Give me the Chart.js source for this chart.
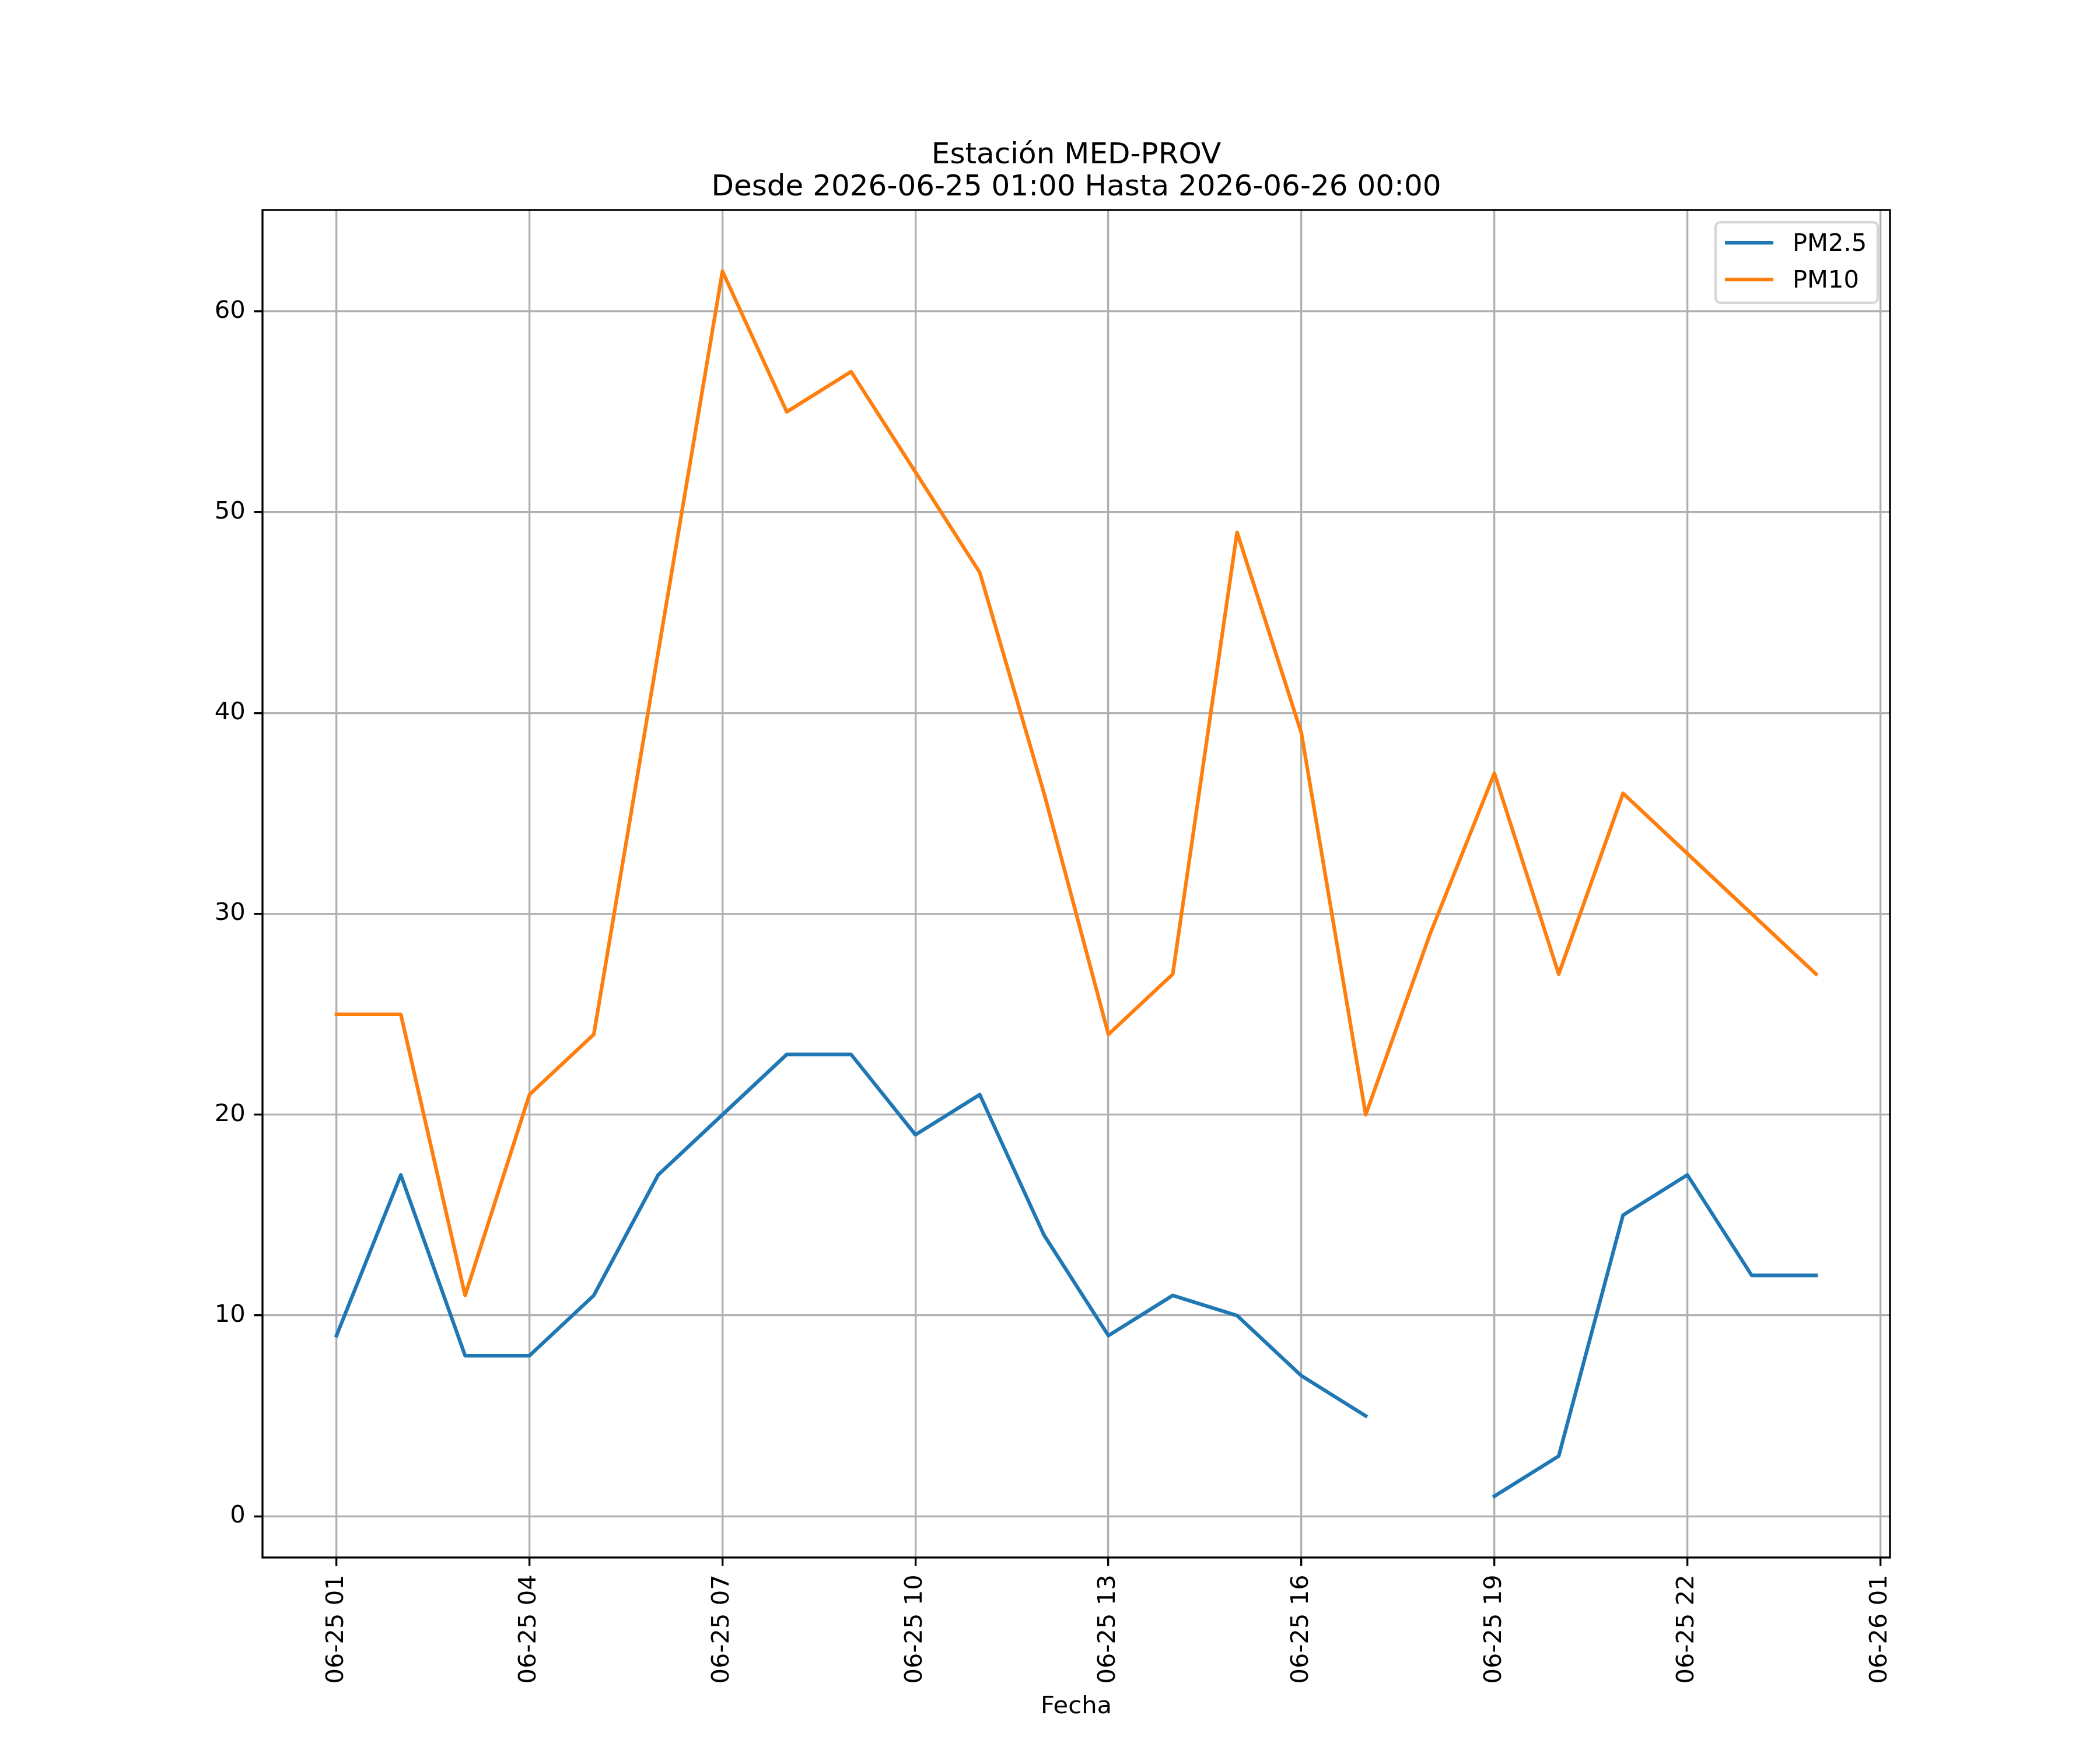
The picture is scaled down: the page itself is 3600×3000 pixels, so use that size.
<!DOCTYPE html>
<html>
<head>
<meta charset="utf-8">
<script src="https://cdn.jsdelivr.net/npm/chart.js@4.4.1/dist/chart.umd.min.js"></script>
<style>html,body{margin:0;padding:0;background:#fff}canvas{display:block}</style>
</head>
<body>
<canvas id="c" width="3600" height="3000" style="width:3600px;height:3000px"></canvas>
<script>
// ---- data ----
const hours = [1,2,3,4,5,6,7,8,9,10,11,12,13,14,15,16,17,18,19,20,21,22,23,24];
const pm25  = [9,17,8,8,11,17,20,23,23,19,21,14,9,11,10,7,5,null,1,3,15,17,12,12];
const pm10  = [25,25,11,21,24,43,62,55,57,52,47,36,24,27,49,39,20,29,37,27,36,33,30,27];
const tickHours  = [1,4,7,10,13,16,19,22,25];
const tickLabels = ['06-25 01','06-25 04','06-25 07','06-25 10','06-25 13','06-25 16','06-25 19','06-25 22','06-26 01'];
const yTicks = [0,10,20,30,40,50,60];
const seriesNames = ['PM2.5','PM10'];
const titleLines = ['Estación MED-PROV','Desde 2026-06-25 01:00 Hasta 2026-06-26 00:00'];
const xTitle = 'Fecha';

// ---- styling ----
const PT = 300/72;
const FONT = '"DejaVu Sans", "Liberation Sans", sans-serif';
const C1 = '#1f77b4', C2 = '#ff7f0e';

const decor = {
  id: 'decor',
  afterDraw(chart) {
    const ctx = chart.ctx, ca = chart.chartArea;
    ctx.save();
    // spines
    ctx.strokeStyle = '#000';
    ctx.lineWidth = 0.8*PT;
    ctx.lineJoin = 'miter';
    ctx.strokeRect(ca.left, ca.top, ca.right-ca.left, ca.bottom-ca.top);
    // title
    const cx = (ca.left+ca.right)/2;
    ctx.fillStyle = '#000';
    ctx.textAlign = 'center';
    ctx.textBaseline = 'alphabetic';
    ctx.font = `${12*PT}px ${FONT}`;
    ctx.fillText(titleLines[0], cx, ca.top - 80);
    ctx.fillText(titleLines[1], cx, ca.top - 25);
    // x label
    ctx.font = `${10*PT}px ${FONT}`;
    ctx.fillText(xTitle, cx, ca.bottom + 267);
    // legend
    const bx = ca.right - 299, by = ca.top + 21, bw = 278, bh = 138;
    ctx.beginPath();
    ctx.roundRect(bx, by, bw, bh, 8);
    ctx.fillStyle = 'rgba(255,255,255,0.8)';
    ctx.fill();
    ctx.strokeStyle = '#d6d6d6';
    ctx.lineWidth = 1.0*PT;
    ctx.stroke();
    chart.data.datasets.forEach((ds, i) => {
      const ly = ca.top + 56 + i*63;
      ctx.beginPath();
      ctx.moveTo(bx + 16, ly);
      ctx.lineTo(bx + 99, ly);
      ctx.strokeStyle = ds.borderColor;
      ctx.lineWidth = 1.5*PT;
      ctx.lineCap = 'butt';
      ctx.stroke();
      ctx.fillStyle = '#000';
      ctx.textAlign = 'left';
      ctx.textBaseline = 'alphabetic';
      ctx.font = `${10*PT}px ${FONT}`;
      ctx.fillText(ds.label, bx + 132, ca.top + 70 + i*63);
    });
    ctx.restore();
  }
};

const gridOpts = {
  color: '#b0b0b0',
  lineWidth: 0.8*PT,
  tickLength: 3.5*PT,
  tickColor: '#000',
  tickWidth: 0.8*PT,
  drawTicks: true
};

new Chart(document.getElementById('c').getContext('2d'), {
  type: 'line',
  data: {
    datasets: [
      { label: seriesNames[0], data: hours.map((h,i)=>({x:h, y:pm25[i]})),
        borderColor: C1, backgroundColor: C1, borderWidth: 1.5*PT, pointRadius: 0,
        tension: 0, spanGaps: false, fill: false, borderCapStyle: 'square', borderJoinStyle: 'round' },
      { label: seriesNames[1], data: hours.map((h,i)=>({x:h, y:pm10[i]})),
        borderColor: C2, backgroundColor: C2, borderWidth: 1.5*PT, pointRadius: 0,
        tension: 0, spanGaps: false, fill: false, borderCapStyle: 'square', borderJoinStyle: 'round' }
    ]
  },
  options: {
    responsive: false,
    animation: false,
    devicePixelRatio: 1,
    layout: { padding: { left: 330, right: 360, top: 360, bottom: 30 } },
    plugins: { legend: { display: false }, title: { display: false }, tooltip: { enabled: false } },
    scales: {
      x: {
        type: 'linear', min: -0.15, max: 25.15,
        afterBuildTicks: s => { s.ticks = tickHours.map(v => ({ value: v })); },
        ticks: {
          autoSkip: false, minRotation: 90, maxRotation: 90, padding: 3.5*PT, color: '#000',
          font: { family: FONT, size: 10*PT },
          callback: v => tickLabels[tickHours.indexOf(v)]
        },
        grid: gridOpts,
        border: { display: false },
        afterFit: s => { s.height = 300; s.paddingLeft = 0; s.paddingRight = 0; }
      },
      y: {
        type: 'linear', min: -2.05, max: 65.05,
        afterBuildTicks: s => { s.ticks = yTicks.map(v => ({ value: v })); },
        ticks: {
          padding: 3.5*PT, color: '#000',
          font: { family: FONT, size: 10*PT },
          callback: v => String(v)
        },
        grid: gridOpts,
        border: { display: false },
        afterFit: s => { s.width = 120; s.paddingTop = 0; s.paddingBottom = 0; }
      }
    }
  },
  plugins: [decor]
});
</script>
</body>
</html>
